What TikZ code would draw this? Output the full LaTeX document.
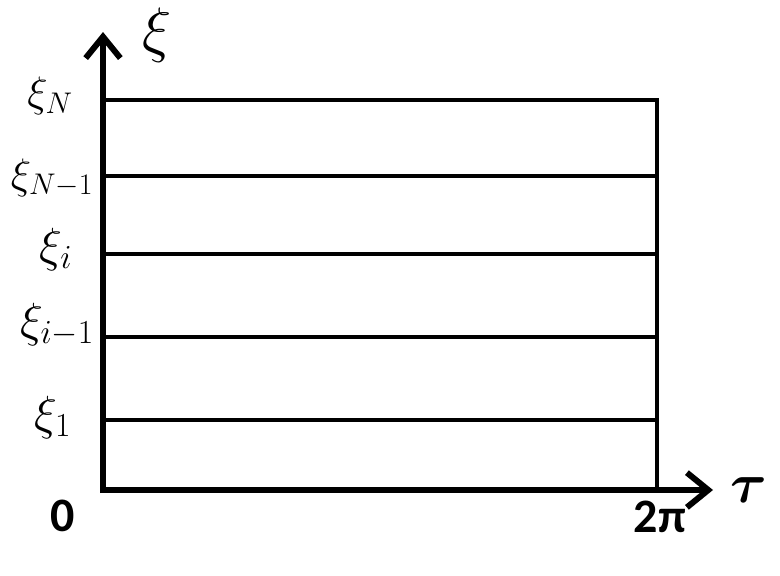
\RequirePackage{fix-cm}
\documentclass[tikz,border=0pt]{standalone}
\usepackage{fontspec}
\newfontfamily\carlito{Carlito}
\usetikzlibrary{arrows.meta}
\begin{document}
\begin{tikzpicture}[x=0.75pt,y=-0.75pt,
  axis/.style={line width=4.5pt,-{Straight Barb[length=16pt,width=26pt,line width=4.5pt]}},
  grid/.style={line width=3pt},
  lab/.style={font=\fontsize{32}{38}\selectfont, inner sep=0pt},
  labb/.style={font=\fontsize{36}{42}\selectfont, inner sep=0pt},
  big/.style={font=\fontsize{46}{54}\selectfont, inner sep=0pt},
  bigb/.style={font=\fontsize{42}{50}\selectfont\boldmath, inner sep=0pt},
  num/.style={font=\carlito\bfseries\fontsize{36}{42}\selectfont, inner sep=0pt}]
\useasboundingbox (0,0) rectangle (780,575);
\coordinate (ytip) at (103,32);
\coordinate (xtip) at (713,490);
\coordinate (yl) at (100,490);
\coordinate (xb) at (103,493);
\foreach \n/\y in {N/100, Nm/176, i/254, im/337, one/420} {
  \coordinate (l\n) at (103,\y);
  \coordinate (r\n) at (657,\y);
  \draw[grid] (l\n) -- (r\n);
}
\coordinate (rb) at (657,490);
\coordinate (rt) at (657,98);
\draw[grid] (rt) -- (rb);
\draw[axis] (xb) -- (ytip);
\draw[axis] (yl) -- (xtip);
\node[big] (xitop) at (157,35) {$\xi$};
\node[bigb] (tau) at (749,490) {$\tau$};
\node[lab] (xN) at (50,96) {$\xi_N$};
\node[lab] (xNm) at (52,178) {$\xi_{N-1}$};
\node[labb] (xi) at (56,249) {$\xi_i$};
\node[labb] (xim) at (57,325) {$\xi_{i-1}$};
\node[labb] (x1) at (53,417) {$\xi_1$};
\node[num] (zero) at (63,516) {0};
\node[num] (twopi) at (660,517) {2π};
\end{tikzpicture}
\end{document}
